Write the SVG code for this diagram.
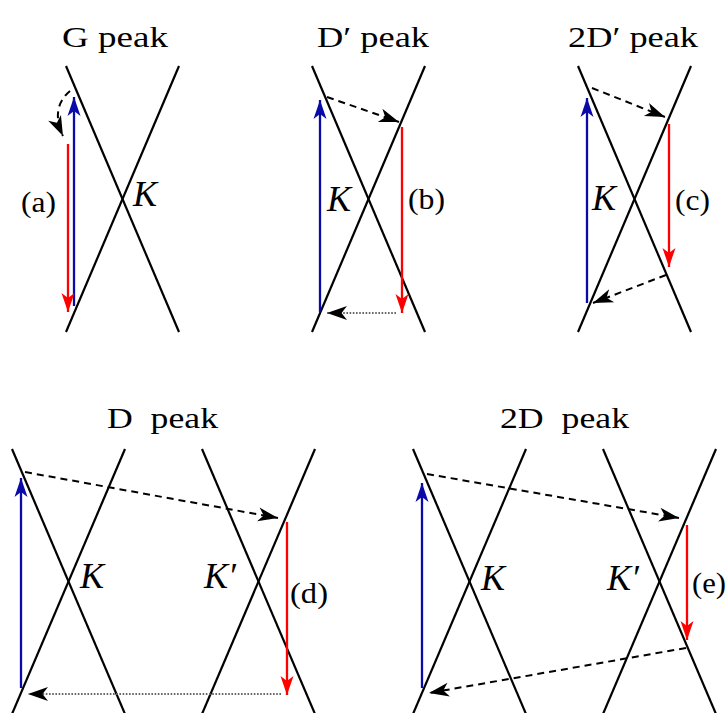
<svg xmlns="http://www.w3.org/2000/svg" width="728" height="713" viewBox="0 0 728 713">
<style>
.band{stroke:#000;stroke-width:2.2;fill:none;stroke-linecap:butt}
.blue{stroke:#0a0aa8;stroke-width:2.3;fill:none}
.red{stroke:#ff0000;stroke-width:2.3;fill:none}
.dash{stroke:#000;stroke-width:2;fill:none;stroke-dasharray:7 5}
.dot{stroke:#666;stroke-width:2;fill:none;stroke-dasharray:1.6 1.6}
.title{font-family:"Liberation Serif","Times New Roman",serif;font-size:30px;fill:#000}
.lab{font-family:"Liberation Serif","Times New Roman",serif;font-size:30px;fill:#000}
.k{font-family:"Liberation Serif","Times New Roman",serif;font-size:36px;font-style:italic;fill:#000}
</style>
<defs>
<marker id="hb" markerUnits="userSpaceOnUse" markerWidth="22" markerHeight="16" refX="0" refY="0" viewBox="-20 -8 22 16" orient="auto" overflow="visible"><path d="M0,0 L-19,-6.5 L-14,0 L-19,6.5 Z" fill="#0a0aa8"/></marker>
<marker id="hr" markerUnits="userSpaceOnUse" markerWidth="22" markerHeight="16" refX="0" refY="0" viewBox="-20 -8 22 16" orient="auto" overflow="visible"><path d="M0,0 L-19,-6.5 L-14,0 L-19,6.5 Z" fill="#ff0000"/></marker>
<marker id="hk" markerUnits="userSpaceOnUse" markerWidth="22" markerHeight="16" refX="0" refY="0" viewBox="-20 -8 22 16" orient="auto" overflow="visible"><path d="M0,0 L-20,-7 L-14.5,0 L-20,7 Z" fill="#000"/></marker>
</defs>
<rect width="728" height="713" fill="#fff"/>

<g id="panel-G">
<text class="title" x="62" y="47" textLength="106" lengthAdjust="spacingAndGlyphs">G peak</text>
<line class="band" x1="66" y1="66" x2="179" y2="332"/>
<line class="band" x1="179" y1="66" x2="66" y2="332"/>
<text class="k" x="133" y="206">K</text>
<text class="lab" x="21" y="212" textLength="35" lengthAdjust="spacingAndGlyphs">(a)</text>
</g>

<g id="panel-Dprime">
<text class="title" x="317" y="47" textLength="112" lengthAdjust="spacingAndGlyphs">D′ peak</text>
<line class="band" x1="312" y1="66" x2="425" y2="332"/>
<line class="band" x1="425" y1="66" x2="312" y2="332"/>
<text class="k" x="327" y="211">K</text>
<text class="lab" x="408" y="209" textLength="37" lengthAdjust="spacingAndGlyphs">(b)</text>
</g>

<g id="panel-2Dprime">
<text class="title" x="568" y="47" textLength="130" lengthAdjust="spacingAndGlyphs">2D′ peak</text>
<line class="band" x1="578" y1="66" x2="691" y2="332"/>
<line class="band" x1="691" y1="66" x2="578" y2="332"/>
<text class="k" x="592" y="210">K</text>
<text class="lab" x="675" y="210" textLength="35" lengthAdjust="spacingAndGlyphs">(c)</text>
</g>

<g id="panel-D">
<text class="title" x="107" y="428" textLength="111" lengthAdjust="spacingAndGlyphs" xml:space="preserve">D  peak</text>
<line class="band" x1="12" y1="449" x2="125" y2="714"/>
<line class="band" x1="125" y1="449" x2="12" y2="714"/>
<line class="band" x1="202" y1="449" x2="315" y2="714"/>
<line class="band" x1="315" y1="449" x2="202" y2="714"/>
<text class="k" x="80" y="588">K</text>
<text class="k" x="204" y="588">K′</text>
<text class="lab" x="290" y="603" textLength="38" lengthAdjust="spacingAndGlyphs">(d)</text>
</g>

<g id="panel-2D">
<text class="title" x="500" y="428" textLength="129" lengthAdjust="spacingAndGlyphs" xml:space="preserve">2D  peak</text>
<line class="band" x1="413" y1="449" x2="526" y2="714"/>
<line class="band" x1="526" y1="449" x2="413" y2="714"/>
<line class="band" x1="603" y1="449" x2="716" y2="714"/>
<line class="band" x1="716" y1="449" x2="603" y2="714"/>
<text class="k" x="481" y="590">K</text>
<text class="k" x="607" y="590">K′</text>
<text class="lab" x="692" y="593" textLength="34" lengthAdjust="spacingAndGlyphs">(e)</text>
</g>

<g id="connectors">
<!-- G -->
<line class="blue" x1="74" y1="306" x2="74" y2="97" marker-end="url(#hb)"/>
<line class="red" x1="68" y1="144" x2="68" y2="312" marker-end="url(#hr)"/>
<path class="dash" d="M70,91 Q50,108 63,136" marker-end="url(#hk)"/>
<!-- D' -->
<line class="blue" x1="320" y1="312" x2="320" y2="100" marker-end="url(#hb)"/>
<line class="red" x1="402" y1="127" x2="402" y2="313" marker-end="url(#hr)"/>
<line class="dash" x1="327" y1="97" x2="399" y2="122" marker-end="url(#hk)"/>
<line class="dot" x1="396" y1="313" x2="327" y2="313" marker-end="url(#hk)"/>
<!-- 2D' -->
<line class="blue" x1="587" y1="303" x2="587" y2="98" marker-end="url(#hb)"/>
<line class="red" x1="669" y1="124" x2="669" y2="267" marker-end="url(#hr)"/>
<line class="dash" x1="592" y1="88" x2="665" y2="117" marker-end="url(#hk)"/>
<line class="dash" x1="666" y1="275" x2="593" y2="303" marker-end="url(#hk)"/>
<!-- D -->
<line class="blue" x1="21" y1="688" x2="21" y2="478" marker-end="url(#hb)"/>
<line class="red" x1="287" y1="522" x2="287" y2="695" marker-end="url(#hr)"/>
<line class="dash" x1="25" y1="472" x2="278" y2="518" marker-end="url(#hk)"/>
<line class="dot" x1="281" y1="694" x2="28" y2="694" marker-end="url(#hk)"/>
<!-- 2D -->
<line class="blue" x1="422" y1="688" x2="422" y2="483" marker-end="url(#hb)"/>
<line class="red" x1="687" y1="525" x2="687" y2="640" marker-end="url(#hr)"/>
<line class="dash" x1="427" y1="474" x2="679" y2="518" marker-end="url(#hk)"/>
<line class="dash" x1="686" y1="648" x2="429" y2="693" marker-end="url(#hk)"/>
</g>
</svg>
